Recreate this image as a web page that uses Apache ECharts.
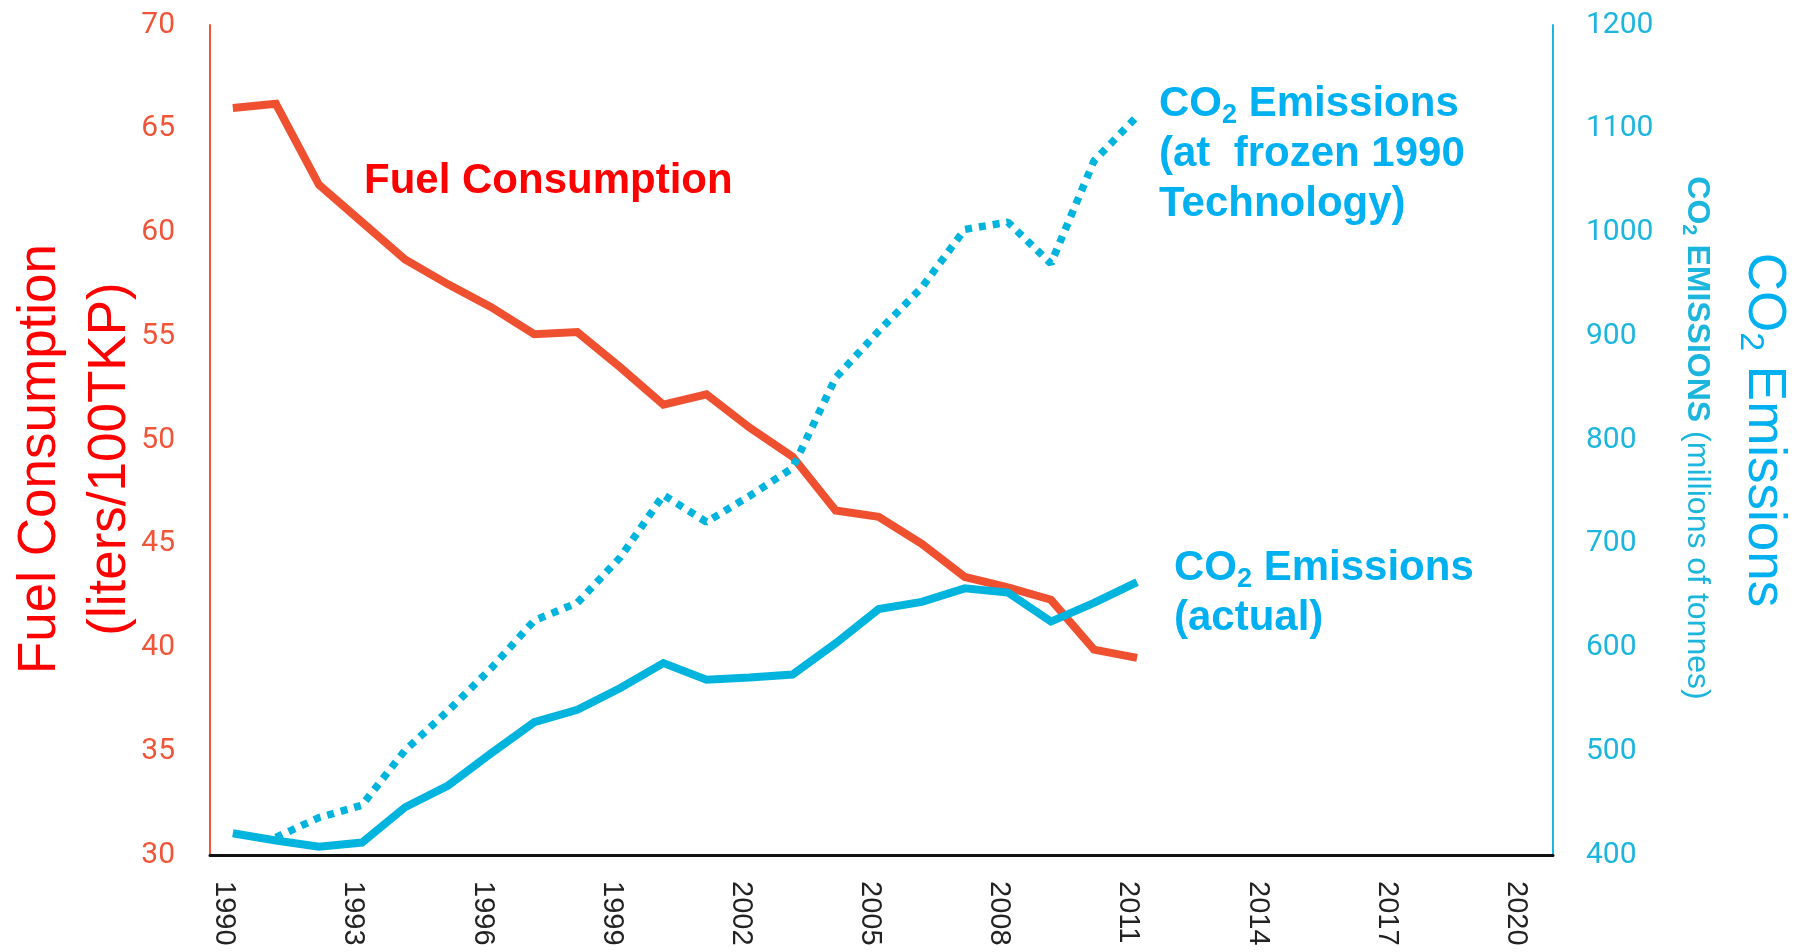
<!DOCTYPE html>
<html>
<head>
<meta charset="utf-8">
<title>Fuel Consumption and CO2 Emissions</title>
<script src="https://cdn.jsdelivr.net/npm/echarts@6/dist/echarts.min.js"></script>
<style>
  html, body { margin: 0; padding: 0; background: #fff; }
  #chart { width: 1800px; height: 952px; }
</style>
</head>
<body>
<div id="chart"></div>
<script>
// years of the data
var years = [1990, 1991, 1992, 1993, 1994, 1995, 1996, 1997, 1998, 1999, 2000,
             2001, 2002, 2003, 2004, 2005, 2006, 2007, 2008, 2009, 2010, 2011];
// fuel consumption, liters / 100 TKP (left axis)
var fuelConsumption = [66.0, 66.2, 62.3, 60.5, 58.7, 57.5, 56.4, 55.1, 55.2, 53.5, 51.7,
                       52.2, 50.6, 49.2, 46.6, 46.3, 45.0, 43.4, 42.9, 42.3, 39.9, 39.5];
// CO2 emissions actual, millions of tonnes (right axis)
var co2Actual = [421, 414, 408, 412, 446, 467, 498, 528, 540, 561, 585,
                 569, 571, 574, 604, 637, 644, 657, 653, 625, 643, 663];
// CO2 emissions at frozen 1990 technology (no value for 1990)
var co2Frozen = [null, 417, 436, 448, 501, 539, 580, 626, 643, 687, 747,
                 721, 746, 773, 860, 905, 947, 1003, 1010, 970, 1069, 1112];
// tick labels of the year axis
var yearTicks = [1990, 1993, 1996, 1999, 2002, 2005, 2008, 2011, 2014, 2017, 2020];

var RED_LINE = '#ee5030';
var RED_AXIS = '#f0553a';
var BLUE_LINE = '#00b4de';
var BLUE_AXIS = '#1bb5dd';
var BLUE_TEXT = '#00b0f0';
var ARIAL = '"Liberation Sans", Arial, sans-serif';
// the year labels sit a little left of their data points in the original
var LABEL_SHIFT = 0.2;

function pairs(vals) {
  var out = [];
  years.forEach(function (y, i) {
    if (vals[i] != null) out.push([y, vals[i]]);
  });
  return out;
}

// rich styles for labels with a subscript 2
function subRich(size, subSize, lh, subLh, color, weight) {
  return {
    m: { fontSize: size, fontWeight: weight, fontFamily: ARIAL, fill: color, lineHeight: lh },
    s: { fontSize: subSize, fontWeight: weight, fontFamily: ARIAL, fill: color,
         lineHeight: subLh, verticalAlign: 'bottom' }
  };
}

var chart = echarts.init(document.getElementById('chart'));

var option = {
  animation: false,
  backgroundColor: '#fff',
  grid: { left: 210, right: 247, top: 25, bottom: 97, containLabel: false },
  xAxis: {
    type: 'value',
    min: 1989.47,
    max: 2020.66,
    axisLine: { show: true, onZero: false, lineStyle: { color: '#111', width: 3 } },
    axisTick: { show: false },
    splitLine: { show: false },
    axisLabel: {
      customValues: yearTicks.map(function (y) { return y - LABEL_SHIFT; }),
      rotate: -90,
      margin: 26,
      fontSize: 29,
      fontFamily: ARIAL,
      color: '#222',
      formatter: function (v) { return String(Math.round(v)); }
    }
  },
  yAxis: [
    {
      type: 'value',
      position: 'left',
      min: 30,
      max: 70,
      interval: 5,
      axisLine: { show: true, lineStyle: { color: RED_AXIS, width: 2 } },
      axisTick: { show: false },
      splitLine: { show: false },
      axisLabel: { margin: 35, fontSize: 30, fontFamily: 'Roboto', color: RED_AXIS }
    },
    {
      type: 'value',
      position: 'right',
      min: 400,
      max: 1200,
      interval: 100,
      axisLine: { show: true, lineStyle: { color: BLUE_AXIS, width: 2 } },
      axisTick: { show: false },
      splitLine: { show: false },
      axisLabel: {
        margin: 33, fontSize: 30, fontFamily: 'Roboto', color: BLUE_AXIS,
        formatter: function (v) { return String(v); }
      }
    }
  ],
  series: [
    {
      name: 'Fuel Consumption',
      type: 'line',
      yAxisIndex: 0,
      data: pairs(fuelConsumption),
      showSymbol: false,
      lineStyle: { color: RED_LINE, width: 8, join: 'miter' },
      z: 2
    },
    {
      name: 'CO2 Emissions (at frozen 1990 Technology)',
      type: 'line',
      yAxisIndex: 1,
      data: pairs(co2Frozen),
      showSymbol: false,
      lineStyle: { color: BLUE_LINE, width: 7.5, type: [7, 7], cap: 'butt' },
      z: 3
    },
    {
      name: 'CO2 Emissions (actual)',
      type: 'line',
      yAxisIndex: 1,
      data: pairs(co2Actual),
      showSymbol: false,
      lineStyle: { color: BLUE_LINE, width: 8, join: 'miter' },
      z: 3
    }
  ],
  graphic: [
    // left axis title
    {
      type: 'text', x: 40, y: 459, rotation: Math.PI / 2,
      style: { text: 'Fuel Consumption', fontSize: 53, fontFamily: ARIAL, fill: '#ff0000',
               align: 'center', verticalAlign: 'middle',
               textAlign: 'center', textVerticalAlign: 'middle' }
    },
    {
      type: 'text', x: 110, y: 459, rotation: Math.PI / 2,
      style: { text: '(liters/100TKP)', fontSize: 53, fontFamily: ARIAL, fill: '#ff0000',
               align: 'center', verticalAlign: 'middle',
               textAlign: 'center', textVerticalAlign: 'middle' }
    },
    // right axis titles
    {
      type: 'text', x: 1764, y: 430, rotation: -Math.PI / 2,
      style: { text: '{m|CO}{s|2}{m| Emissions}',
               rich: subRich(53, 34, 62, 24, BLUE_TEXT, 'normal'),
               align: 'center', verticalAlign: 'middle',
               textAlign: 'center', textVerticalAlign: 'middle' }
    },
    {
      type: 'text', x: 1697, y: 438, rotation: -Math.PI / 2,
      style: { text: '{b|CO}{bs|2}{b| EMISSIONS }{r|(millions of tonnes)}',
               rich: {
                 b: { fontSize: 32, fontWeight: 'bold', fontFamily: ARIAL, fill: BLUE_AXIS, lineHeight: 36 },
                 bs: { fontSize: 20, fontWeight: 'bold', fontFamily: ARIAL, fill: BLUE_AXIS, lineHeight: 30, verticalAlign: 'bottom' },
                 r: { fontSize: 32, fontFamily: ARIAL, fill: BLUE_AXIS, lineHeight: 36 }
               },
               align: 'center', verticalAlign: 'middle',
               textAlign: 'center', textVerticalAlign: 'middle' }
    },
    // series labels
    {
      type: 'text', x: 364, y: 181,
      style: { text: 'Fuel Consumption', fontSize: 42, fontWeight: 'bold', fontFamily: ARIAL,
               fill: '#ff0000', align: 'left', verticalAlign: 'middle',
               textAlign: 'left', textVerticalAlign: 'middle' }
    },
    {
      type: 'text', x: 1159, y: 79,
      style: { text: '{m|CO}{s|2}{m| Emissions}\n{m|(at  frozen 1990}\n{m|Technology)}',
               rich: subRich(42, 27, 50, 22, BLUE_TEXT, 'bold'),
               align: 'left', verticalAlign: 'top',
               textAlign: 'left', textVerticalAlign: 'top' }
    },
    {
      type: 'text', x: 1174, y: 543,
      style: { text: '{m|CO}{s|2}{m| Emissions}\n{m|(actual)}',
               rich: subRich(42, 27, 50, 22, BLUE_TEXT, 'bold'),
               align: 'left', verticalAlign: 'top',
               textAlign: 'left', textVerticalAlign: 'top' }
    }
  ]
};

chart.setOption(option);
</script>
</body>
</html>
